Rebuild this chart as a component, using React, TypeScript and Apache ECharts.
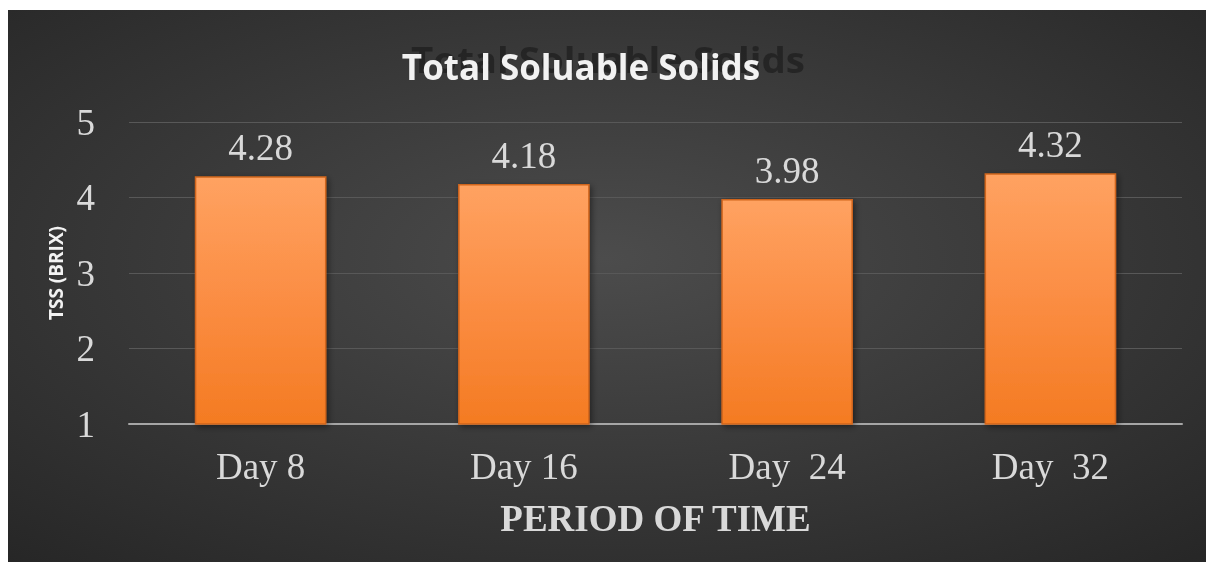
import React, { useEffect, useRef } from "react";
import * as echarts from "echarts";

const categories = ["Day 8", "Day 16", "Day  24", "Day  32"];
const tssValues = [4.28, 4.18, 3.98, 4.32];
const titleText = "Total Soluable Solids";
const xAxisName = "PERIOD OF TIME";
const yAxisName = "TSS (BRIX)";

export default function App() {
  const ref = useRef<HTMLDivElement>(null);
  useEffect(() => {
    if (!ref.current) return;
    const chart = echarts.init(ref.current, null, { renderer: "svg" });
    const serif = "'Liberation Serif', 'DejaVu Serif', serif";
    chart.setOption({
      animation: false,
      backgroundColor: {
        type: "radial",
        x: 0.5,
        y: 0.45,
        r: 0.75,
        colorStops: [
          { offset: 0, color: "#4c4c4c" },
          { offset: 1, color: "#262626" },
        ],
      },
      graphic: [
        {
          type: "text",
          x: 600,
          y: 50,
          z: 1,
          scaleX: 1.1,
          style: {
            text: titleText,
            font: "bold 35px 'Open Sans', sans-serif",
            fill: "rgba(28,28,28,0.7)",
            align: "center",
            verticalAlign: "middle",
          },
        },
        {
          type: "text",
          x: 573,
          y: 56,
          z: 2,
          style: {
            text: titleText,
            font: "bold 35px 'Open Sans', sans-serif",
            fill: "#f2f2f2",
            align: "center",
            verticalAlign: "middle",
          },
        },
      ],
      grid: { left: 121, right: 24, top: 112, bottom: 138 },
      xAxis: {
        type: "category",
        data: categories,
        name: xAxisName,
        nameLocation: "middle",
        nameGap: 76,
        nameTextStyle: { fontFamily: serif, fontWeight: "bold", fontSize: 37, color: "#d9d9d9" },
        axisLine: { lineStyle: { color: "#a6a6a6", width: 2 } },
        axisTick: { show: false },
        axisLabel: { fontFamily: serif, fontSize: 37, color: "#d9d9d9", margin: 24 },
      },
      yAxis: {
        type: "value",
        min: 1,
        max: 5,
        interval: 1,
        name: yAxisName,
        nameLocation: "middle",
        nameGap: 55,
        nameTextStyle: { fontFamily: "'Open Sans', sans-serif", fontWeight: "bold", fontSize: 19, color: "#f2f2f2" },
        axisLine: { show: false },
        axisTick: { show: false },
        axisLabel: { fontFamily: serif, fontSize: 37, color: "#d9d9d9", margin: 34 },
        splitLine: { lineStyle: { color: "#585858", width: 1 } },
      },
      series: [
        {
          type: "bar",
          data: tssValues,
          barWidth: "50%",
          itemStyle: {
            color: {
              type: "linear",
              x: 0,
              y: 0,
              x2: 0,
              y2: 1,
              colorStops: [
                { offset: 0, color: "#ffa261" },
                { offset: 0.5, color: "#fb8d43" },
                { offset: 1, color: "#f47b22" },
              ],
            },
            borderColor: "#d0651d",
            borderWidth: 1.5,
            shadowColor: "rgba(0,0,0,0.45)",
            shadowBlur: 6,
            shadowOffsetX: 2,
            shadowOffsetY: 2,
          },
          label: {
            show: true,
            position: "top",
            distance: 10,
            fontFamily: serif,
            fontSize: 37,
            color: "#d9d9d9",
          },
        },
      ],
    });
    return () => chart.dispose();
  }, []);
  return (
    <div
      ref={ref}
      style={{ position: "fixed", left: 8, top: 10, width: 1198, height: 552 }}
    />
  );
}
